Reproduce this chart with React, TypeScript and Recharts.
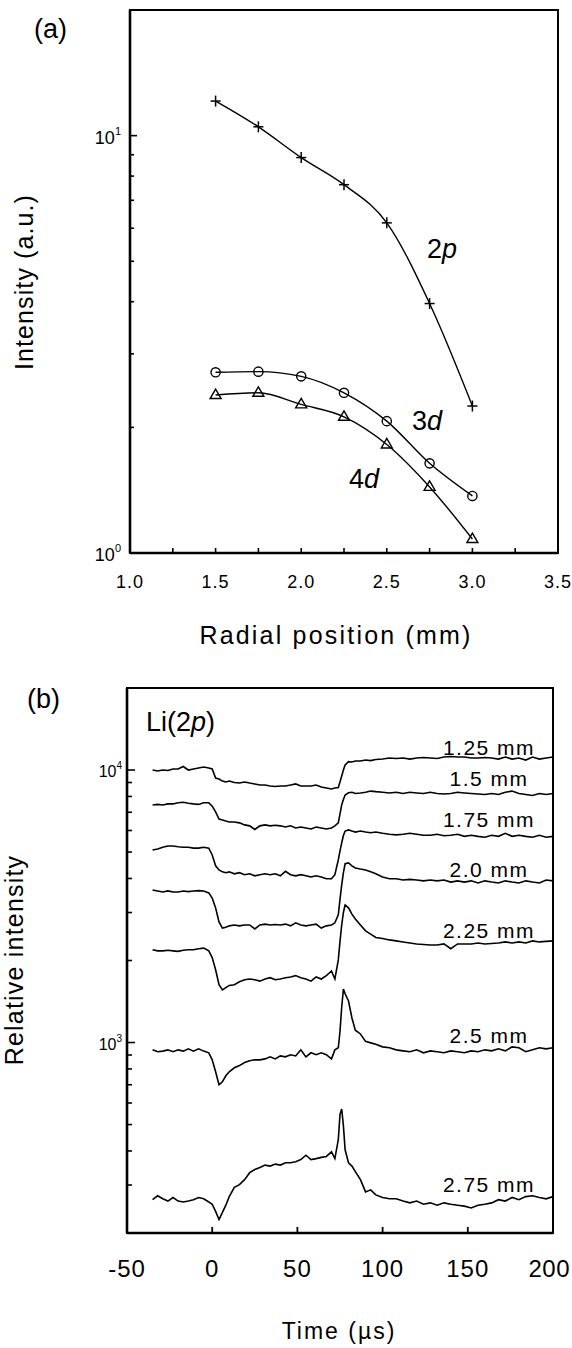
import React from 'react';
import { LineChart, Line, XAxis, YAxis, ReferenceArea } from 'recharts';

const FONT = '"Liberation Sans", Arial, Helvetica, sans-serif';

// ---------- Panel (a) data ----------
const radialPos = [1.5, 1.75, 2.0, 2.25, 2.5, 2.75, 3.0];
const int2p = [12.1, 10.5, 8.86, 7.63, 6.18, 3.96, 2.25];
const int3d = [2.71, 2.72, 2.65, 2.42, 2.07, 1.64, 1.37];
const int4d = [2.39, 2.42, 2.27, 2.12, 1.82, 1.44, 1.08];
const aXTicks = [1, 1.25, 1.5, 1.75, 2, 2.25, 2.5, 2.75, 3, 3.25, 3.5];
const aYTicks = [1, 2, 3, 4, 5, 6, 7, 8, 9, 10];

// ---------- Panel (b) data ----------
const timeUs = [
  -35, -32, -29, -26, -23, -20, -17, -14, -11, -8, -5, -2,
  0, 2, 4, 6, 8, 10,
  13, 16, 19, 22, 25, 28, 31, 34, 37, 40, 43, 46, 49, 52, 55, 58, 61, 64, 67, 70,
  72, 74, 75, 76, 77, 78, 80, 82, 84,
  87, 90, 93, 96,
  100, 104, 108, 112, 116, 120, 124, 128, 132, 136, 140, 144, 148, 152, 156, 160, 164, 168, 172, 176, 180, 184, 188, 192, 196, 200,
];
const r125 = [10000, 9920, 10000, 9960, 10090, 10090, 10300, 10000, 10090, 10180, 10260, 10180,
  10090, 9350, 9270, 9110, 9040, 9110,
  9000, 8960, 9040, 8960, 8890, 8810, 8810, 8740, 8700, 8740, 8740, 8810, 8890, 8740, 8740, 8740, 8810, 8660, 8590, 8520,
  8590, 8630, 9040, 9510, 10000, 10430, 10740, 10700, 10790,
  10790, 10880, 10830, 10930,
  10970, 11070, 11020, 11070, 10970, 11070, 11110, 11070, 11020, 11160, 11210, 11160, 11160, 11070, 11070, 11110, 11070, 10970, 11160, 10970, 11070, 10880, 11160, 10970, 11070, 11160];
const r150 = [7440, 7480, 7440, 7510, 7510, 7580, 7620, 7550, 7510, 7480, 7580, 7580,
  7370, 7020, 6610, 6560, 6500, 6450,
  6450, 6400, 6290, 6240, 6050, 6240, 6290, 6240, 6270, 6240, 6180, 6240, 6130, 6180, 6130, 6080, 6180, 6130, 6080, 6130,
  6240, 6400, 6900, 7450, 7800, 8100, 8250, 8290, 8200,
  8240, 8290, 8370, 8330,
  8290, 8240, 8290, 8200, 8290, 8240, 8200, 8290, 8200, 8170, 8200, 8290, 8240, 8200, 8170, 8130, 8200, 8130, 8290, 8370, 8200, 8130, 8060, 8200, 8130, 8200];
const r175 = [5090, 5130, 5210, 5260, 5260, 5230, 5210, 5210, 5170, 5170, 5210, 5170,
  4880, 4450, 4300, 4230, 4200, 4230,
  4160, 4200, 4130, 4160, 4090, 4130, 4160, 4130, 4160, 4090, 4250, 4130, 4090, 4130, 4090, 4050, 4090, 4050, 3990, 3990,
  4130, 4680, 5050, 5400, 5750, 5970, 6030, 5970, 5920,
  5970, 5920, 5890, 5920,
  5860, 5810, 5780, 5810, 5860, 5810, 5760, 5760, 5810, 5740, 5760, 5810, 5710, 5760, 5710, 5670, 5760, 5710, 5860, 5710, 5760, 5710, 5670, 5760, 5670, 5710];
const r200 = [3630, 3600, 3570, 3600, 3570, 3570, 3600, 3580, 3600, 3610, 3600, 3540,
  3390, 3120, 2770, 2630, 2650, 2680,
  2700, 2680, 2700, 2700, 2610, 2700, 2720, 2700, 2710, 2700, 2720, 2680, 2750, 2700, 2680, 2700, 2720, 2630, 2680, 2700,
  2750, 2940, 3350, 3790, 4200, 4530, 4560, 4450, 4370,
  4330, 4300, 4230, 4160,
  4050, 3990, 3990, 3950, 3970, 3950, 3920, 3950, 3920, 3950, 3880, 3920, 3880, 3920, 3850, 3920, 3880, 3850, 3920, 3880, 3850, 3920, 3880, 3850, 3950, 3920];
const r225 = [2190, 2170, 2170, 2180, 2170, 2160, 2180, 2190, 2190, 2210, 2220, 2170,
  2050, 1850, 1630, 1560, 1590, 1620,
  1630, 1670, 1700, 1710, 1700, 1680, 1710, 1730, 1700, 1710, 1730, 1740, 1760, 1730, 1710, 1680, 1740, 1710, 1760, 1830,
  1710, 2010, 2350, 2700, 3000, 3200, 3120, 2960, 2840,
  2700, 2570, 2500, 2430,
  2410, 2380, 2360, 2340, 2320, 2300, 2290, 2280, 2280, 2300, 2210, 2300, 2300, 2300, 2320, 2300, 2310, 2320, 2340, 2320, 2340, 2320, 2360, 2340, 2350, 2360];
const r250 = [940, 925, 930, 940, 925, 940, 930, 948, 930, 948, 930, 917,
  864, 781, 700, 718, 755, 781,
  808, 823, 845, 857, 864, 864, 871, 886, 871, 893, 886, 902, 893, 940, 886, 917, 902, 917, 902, 871,
  940, 957, 1100, 1350, 1570, 1510, 1420, 1230, 1110,
  1075, 1010, 997, 985,
  964, 957, 940, 932, 925, 940, 917, 932, 925, 917, 932, 925, 917, 932, 925, 940, 932, 948, 932, 964, 957, 925, 940, 957, 948, 957];
const r275 = [265, 274, 267, 262, 270, 262, 260, 262, 265, 270, 267, 260,
  255, 240, 224, 238, 253, 272,
  294, 301, 314, 333, 342, 348, 355, 352, 358, 355, 362, 362, 365, 372, 386, 372, 375, 379, 382, 397,
  375, 440, 545, 570, 495, 404, 362, 352, 336,
  314, 283, 288, 276,
  270, 267, 267, 262, 258, 262, 255, 258, 253, 258, 255, 253, 251, 247, 253, 255, 258, 265, 262, 270, 265, 272, 274, 270, 267, 272];
const traceLabels = ['1.25 mm', '1.5 mm', '1.75 mm', '2.0 mm', '2.25 mm', '2.5 mm', '2.75 mm'];
const bXTicks = [-50, 0, 50, 100, 150, 200];
const bYTicks = [200, 300, 400, 500, 600, 700, 800, 900, 1000, 2000, 3000, 4000, 5000, 6000, 7000, 8000, 9000, 10000];

const dataA = radialPos.map((x, i) => ({ x, p2: int2p[i], d3: int3d[i], d4: int4d[i] }));
const traceSeries = [r125, r150, r175, r200, r225, r250, r275];
const dataB = timeUs.map((t, i) => {
  const row: any = { t };
  traceSeries.forEach((s, k) => { row['s' + k] = s[i]; });
  return row;
});

const sup = (v: number) => String(Math.round(Math.log10(v)));

const AYTick = (props: any) => {
  const { x, y, payload } = props;
  const v = payload.value;
  const major = v === 1 || v === 10;
  return (
    <g>
      <line x1={x} x2={x + (major ? 7 : 4)} y1={y} y2={y} stroke="#000" strokeWidth={1.6} />
      {major && (
        <text x={x - 9} y={y + 8} textAnchor="end" fontSize={18} fontFamily={FONT} fill="#000">
          10<tspan fontSize={11} dy={-9}>{sup(v)}</tspan>
        </text>
      )}
    </g>
  );
};

const AXTick = (props: any) => {
  const { x, y, payload } = props;
  const v = payload.value;
  const labeled = Math.abs(v * 2 - Math.round(v * 2)) < 1e-6;
  return (
    <g>
      <line x1={x} x2={x} y1={y} y2={y - 5} stroke="#000" strokeWidth={1.6} />
      {labeled && (
        <text x={x} y={y + 35} textAnchor="middle" fontSize={18} letterSpacing={1} fontFamily={FONT} fill="#000">
          {v.toFixed(1)}
        </text>
      )}
    </g>
  );
};

const BYTick = (props: any) => {
  const { x, y, payload } = props;
  const v = payload.value;
  const major = v === 1000 || v === 10000;
  return (
    <g>
      <line x1={x} x2={x + (major ? 8 : 5)} y1={y} y2={y} stroke="#000" strokeWidth={1.6} />
      {major && (
        <text x={x - 5} y={y + 7} textAnchor="end" fontSize={16} fontFamily={FONT} fill="#000">
          10<tspan fontSize={10} dy={-8}>{sup(v)}</tspan>
        </text>
      )}
    </g>
  );
};

const BXTick = (props: any) => {
  const { x, y, payload } = props;
  const v = payload.value;
  const last = v === bXTicks[bXTicks.length - 1];
  const inner = v !== bXTicks[0] && !last;
  return (
    <g>
      {inner && <line x1={x} x2={x} y1={y} y2={y - 6} stroke="#000" strokeWidth={1.8} />}
      <text
        x={last ? x + 17 : x}
        y={y + 44}
        textAnchor={last ? 'end' : 'middle'}
        fontSize={24}
        letterSpacing={last ? 0.5 : 1}
        fontFamily={FONT}
        fill="#000"
      >
        {String(v)}
      </text>
    </g>
  );
};

const PlusDot = (p: any) => {
  const { cx, cy } = p;
  if (cx == null || cy == null) return null;
  return (
    <g>
      <line x1={cx - 5} x2={cx + 5} y1={cy} y2={cy} stroke="#000" strokeWidth={1.5} />
      <line x1={cx} x2={cx} y1={cy - 5.5} y2={cy + 5.5} stroke="#000" strokeWidth={1.5} />
    </g>
  );
};
const CircleDot = (p: any) => {
  const { cx, cy } = p;
  if (cx == null || cy == null) return null;
  return <circle cx={cx} cy={cy} r={4.6} fill="none" stroke="#000" strokeWidth={1.4} />;
};
const TriDot = (p: any) => {
  const { cx, cy } = p;
  if (cx == null || cy == null) return null;
  return (
    <polygon
      points={`${cx},${cy - 6} ${cx - 5.5},${cy + 3.5} ${cx + 5.5},${cy + 3.5}`}
      fill="none"
      stroke="#000"
      strokeWidth={1.4}
    />
  );
};

const axisStroke = { stroke: '#000', strokeWidth: 2.6 };
const traceLabelPos = [
  [489, 755], [489, 786], [489, 827], [489, 877], [489, 938], [489, 1043], [489, 1192],
];

export default function App() {
  return (
    <div style={{ position: 'absolute', left: 0, top: 0, width: 572, height: 1348, background: '#fff' }}>
      <div style={{ position: 'absolute', left: 0, top: 0 }}>
        <LineChart width={572} height={660} data={dataA} margin={{ top: 10, right: 14, bottom: 0, left: 0 }}>
          <XAxis
            dataKey="x"
            type="number"
            domain={[1, 3.5]}
            ticks={aXTicks}
            interval={0}
            height={107}
            tickSize={0}
            tickMargin={0}
            tickLine={false}
            axisLine={axisStroke}
            tick={<AXTick />}
            allowDataOverflow
          />
          <YAxis
            type="number"
            scale="log"
            domain={[1, 20]}
            ticks={aYTicks}
            interval={0}
            width={130}
            tickSize={0}
            tickMargin={0}
            tickLine={false}
            axisLine={axisStroke}
            tick={<AYTick />}
            allowDataOverflow
          />
          <ReferenceArea x1={1} x2={3.5} y1={1} y2={20} stroke="#000" strokeWidth={2} fill="none" fillOpacity={0} />
          <Line type="monotone" dataKey="p2" stroke="#000" strokeWidth={1.4} dot={(p: any) => <PlusDot key={'p' + p.index} {...p} />} activeDot={false} isAnimationActive={false} />
          <Line type="monotone" dataKey="d3" stroke="#000" strokeWidth={1.4} dot={(p: any) => <CircleDot key={'c' + p.index} {...p} />} activeDot={false} isAnimationActive={false} />
          <Line type="monotone" dataKey="d4" stroke="#000" strokeWidth={1.4} dot={(p: any) => <TriDot key={'t' + p.index} {...p} />} activeDot={false} isAnimationActive={false} />
        </LineChart>
      </div>
      <div style={{ position: 'absolute', left: 0, top: 680 }}>
        <LineChart width={572} height={668} data={dataB} margin={{ top: 8, right: 19, bottom: 0, left: 0 }}>
          <XAxis
            dataKey="t"
            type="number"
            domain={[-50, 200]}
            ticks={bXTicks}
            interval={0}
            height={115}
            tickSize={0}
            tickMargin={0}
            tickLine={false}
            axisLine={axisStroke}
            tick={<BXTick />}
            allowDataOverflow
          />
          <YAxis
            type="number"
            scale="log"
            domain={[200, 20000]}
            ticks={bYTicks}
            interval={0}
            width={127}
            tickSize={0}
            tickMargin={0}
            tickLine={false}
            axisLine={axisStroke}
            tick={<BYTick />}
            allowDataOverflow
          />
          <ReferenceArea x1={-50} x2={200} y1={200} y2={20000} stroke="#000" strokeWidth={2} fill="none" fillOpacity={0} />
          {traceSeries.map((_, k) => (
            <Line
              key={k}
              type="linear"
              dataKey={'s' + k}
              stroke="#000"
              strokeWidth={1.6}
              dot={false}
              activeDot={false}
              isAnimationActive={false}
            />
          ))}
        </LineChart>
      </div>
      <svg width={572} height={1348} style={{ position: 'absolute', left: 0, top: 0, pointerEvents: 'none' }} fontFamily={FONT}>
        <text x={34} y={38} fontSize={27} fill="#000">(a)</text>
        <text x={427} y={258} fontSize={27} fill="#000">2<tspan fontStyle="italic">p</tspan></text>
        <text x={412} y={430} fontSize={27} fill="#000">3<tspan fontStyle="italic">d</tspan></text>
        <text x={349} y={488} fontSize={27} fill="#000">4<tspan fontStyle="italic">d</tspan></text>
        <text transform="translate(24,282) rotate(-90)" textAnchor="middle" dominantBaseline="central" fontSize={25} letterSpacing={1.1} fill="#000">Intensity (a.u.)</text>
        <text x={336} y={644} textAnchor="middle" fontSize={25} letterSpacing={2.2} fill="#000">Radial position (mm)</text>

        <text x={27} y={708} fontSize={27} fill="#000">(b)</text>
        <text x={146} y={731} fontSize={27} fill="#000">Li(2<tspan fontStyle="italic">p</tspan>)</text>
        {traceLabels.map((s, i) => (
          <text key={s} x={traceLabelPos[i][0]} y={traceLabelPos[i][1]} textAnchor="middle" fontSize={21} letterSpacing={1.5} fill="#000">{s}</text>
        ))}
        <text transform="translate(14,960) rotate(-90)" textAnchor="middle" dominantBaseline="central" fontSize={25} letterSpacing={1.2} fill="#000">Relative intensity</text>
        <text x={339} y={1339} textAnchor="middle" fontSize={23} letterSpacing={2} fill="#000">Time (µs)</text>
      </svg>
    </div>
  );
}
